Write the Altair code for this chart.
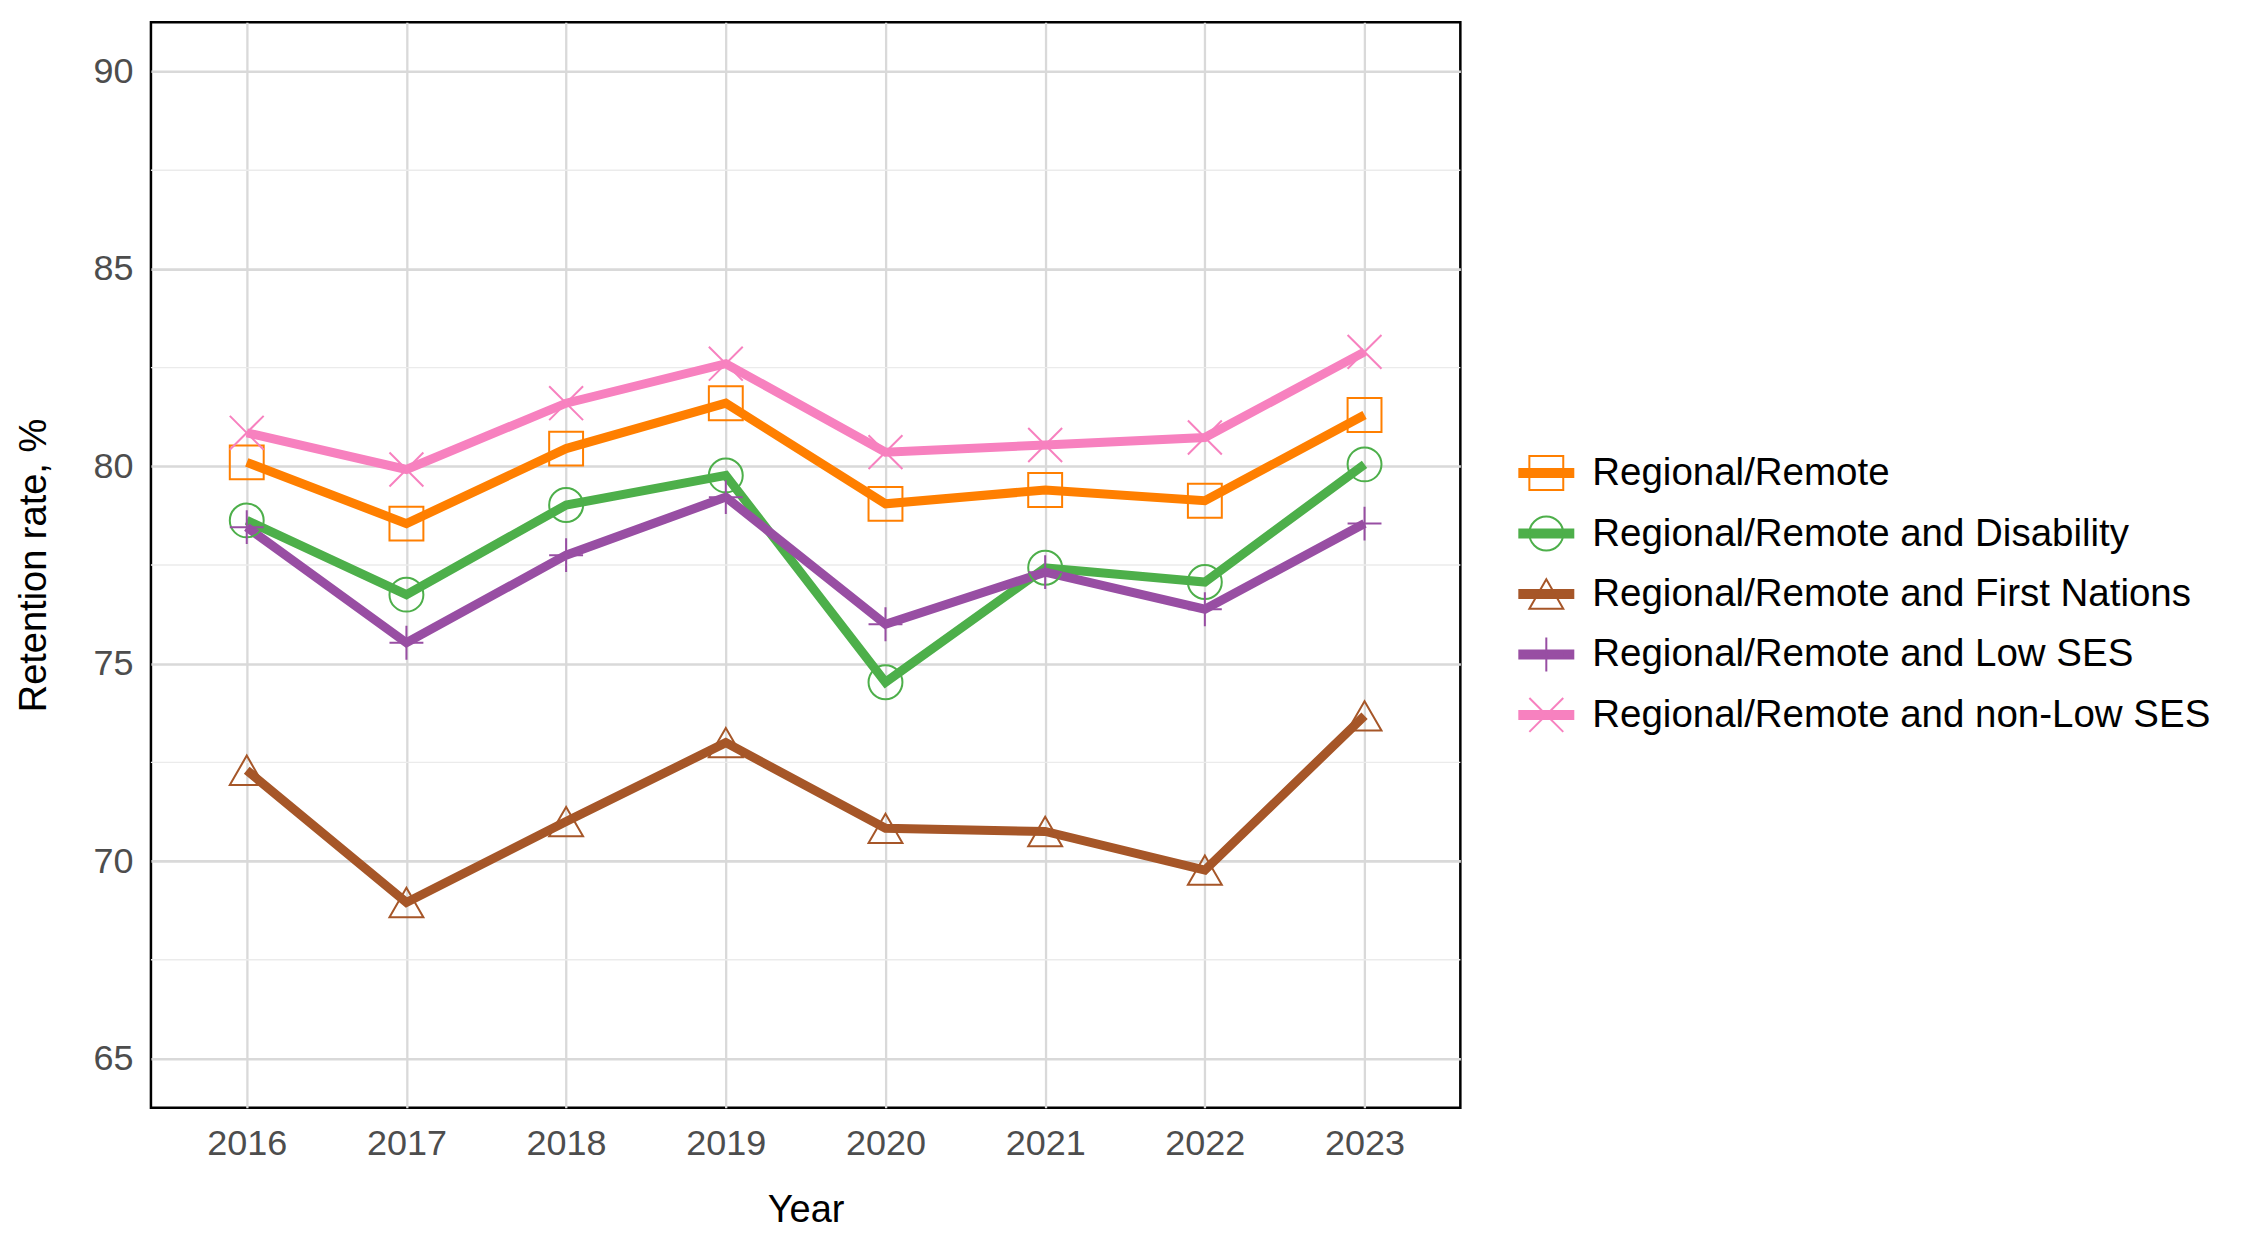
import altair as alt
import pandas as pd

years = [2016, 2017, 2018, 2019, 2020, 2021, 2022, 2023]
series = [
    "Regional/Remote",
    "Regional/Remote and Disability",
    "Regional/Remote and First Nations",
    "Regional/Remote and Low SES",
    "Regional/Remote and non-Low SES",
]
regional_remote = [80.10, 78.55, 80.45, 81.60, 79.05, 79.40, 79.13, 81.30]
disability = [78.63, 76.75, 79.02, 79.77, 74.53, 77.43, 77.07, 80.05]
first_nations = [72.30, 68.95, 71.00, 73.00, 70.83, 70.75, 69.77, 73.68]
low_ses = [78.46, 75.53, 77.75, 79.22, 76.00, 77.32, 76.38, 78.55]
non_low_ses = [80.85, 79.92, 81.60, 82.60, 80.36, 80.54, 80.73, 82.90]

colors = ["#FF7F00", "#4DAF4A", "#A65628", "#984EA3", "#F781BF"]
shapes = ["square", "circle", "triangle-up", "M-1,0L1,0M0,-1L0,1", "M-1,-1L1,1M-1,1L1,-1"]
sizes = [1150, 1150, 1900, 2900, 1200]
y_major = [65, 70, 75, 80, 85, 90]
y_minor = [67.5, 72.5, 77.5, 82.5, 87.5]

all_values = [regional_remote, disability, first_nations, low_ses, non_low_ses]
rows = []
for s, vals in zip(series, all_values):
    for yr, v in zip(years, vals):
        rows.append({"series": s, "year": yr, "value": v})
df = pd.DataFrame(rows)
minor_df = pd.DataFrame({"value": y_minor})

FONT = "Liberation Sans"
color_scale = alt.Scale(domain=series, range=colors)
shape_scale = alt.Scale(domain=series, range=shapes)
size_scale = alt.Scale(domain=series, range=sizes)

x_enc = alt.X(
    "year:Q",
    scale=alt.Scale(domain=[2015.4, 2023.6], nice=False, zero=False),
    axis=alt.Axis(
        values=years, format="d", title="Year",
        labelFont=FONT, labelFontSize=36, labelColor="#4d4d4d", labelPadding=19,
        titleFont=FONT, titleFontSize=38, titleFontWeight="normal", titleColor="black",
        titlePadding=30, ticks=False, domain=False,
        grid=True, gridColor="#d9d9d9", gridWidth=2.3,
    ),
)
y_enc = alt.Y(
    "value:Q",
    scale=alt.Scale(domain=[63.75, 91.25], nice=False, zero=False),
    axis=alt.Axis(
        values=y_major, title="Retention rate, %",
        labelFont=FONT, labelFontSize=36, labelColor="#4d4d4d", labelPadding=18,
        titleFont=FONT, titleFontSize=38, titleFontWeight="normal", titleColor="black",
        titlePadding=39, ticks=False, domain=False,
        grid=True, gridColor="#d9d9d9", gridWidth=2.6,
    ),
)

minor = alt.Chart(minor_df).mark_rule(color="#ebebeb", strokeWidth=1.4).encode(y=y_enc)

lines = alt.Chart(df).mark_line(strokeWidth=9).encode(
    x=x_enc, y=y_enc,
    color=alt.Color("series:N", scale=color_scale, legend=None),
)
points = alt.Chart(df).mark_point(filled=False, strokeWidth=2, opacity=1).encode(
    x=x_enc, y=y_enc,
    color=alt.Color("series:N", scale=color_scale, legend=None),
    shape=alt.Shape("series:N", scale=shape_scale, legend=None),
    size=alt.Size("series:O", scale=size_scale, legend=None),
)

main = alt.layer(minor, lines, points).properties(
    width=1310, height=1086,
    view=alt.ViewBackground(stroke="black", strokeWidth=2.5),
)

leg_df = pd.DataFrame({"series": series})
ly = alt.Y("series:N", scale=alt.Scale(type="point", domain=series, range=[451, 693], padding=0), axis=None)
leg_rule = alt.Chart(leg_df).mark_rule(strokeWidth=10).encode(
    x=alt.value(36), x2=alt.value(92), y=ly,
    color=alt.Color("series:N", scale=color_scale, legend=None),
)
leg_pt = alt.Chart(leg_df).mark_point(filled=False, strokeWidth=2, opacity=1).encode(
    x=alt.value(64), y=ly,
    color=alt.Color("series:N", scale=color_scale, legend=None),
    shape=alt.Shape("series:N", scale=shape_scale, legend=None),
    size=alt.Size("series:O", scale=size_scale, legend=None),
)
leg_text = alt.Chart(leg_df).mark_text(
    align="left", baseline="middle", font=FONT, fontSize=38.5, color="black"
).encode(x=alt.value(110), y=ly, text="series:N")

legend = alt.layer(leg_rule, leg_pt, leg_text).properties(
    width=760, height=1086,
    view=alt.ViewBackground(strokeWidth=0, stroke="transparent"),
)

chart = alt.hconcat(main, legend, spacing=20).properties(
    padding={"left": 6, "top": 12, "right": 0, "bottom": 0},
    background="white",
)

chart.save("out.html", embed_options={"renderer": "svg", "actions": False})
